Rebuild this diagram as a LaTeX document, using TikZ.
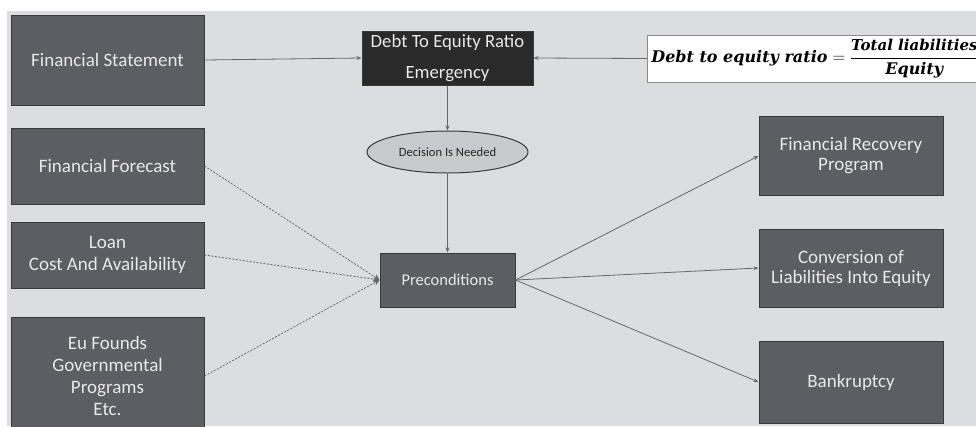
\documentclass[tikz,border=0pt]{standalone}
\usepackage{fontspec}
\setmainfont{Carlito}
\newfontfamily\fmlafont{DejaVu Serif}
\usetikzlibrary{shapes.geometric,arrows.meta}
\definecolor{bggray}{HTML}{DCDDE0}
\definecolor{boxfill}{HTML}{5D5E63}
\definecolor{boxline}{HTML}{3A3A3C}
\definecolor{boxtext}{HTML}{E8E8EA}
\definecolor{darkfill}{HTML}{2A2A2B}
\definecolor{ellfill}{HTML}{C9CACD}
\definecolor{linecol}{HTML}{66676A}
\newcommand{\fmlatxt}[2]{\hbox{\fontsize{#1}{#1}\fmlafont\bfseries\itshape #2}}
\tikzset{
  darkbox/.style={draw=boxline, line width=1pt, fill=boxfill, text=boxtext,
    font=\fontsize{19}{22}\selectfont, align=center, inner sep=2pt},
  rightbox/.style={darkbox, font=\fontsize{19}{20}\selectfont,
    minimum width=184pt},
  emergbox/.style={draw=boxline, line width=1pt, fill=darkfill, text=boxtext,
    font=\fontsize{18.7}{31}\selectfont, align=center, inner sep=2pt,
    minimum width=171pt, minimum height=54pt},
  decell/.style={ellipse, draw=boxline, line width=1pt, fill=ellfill, text=black!85,
    font=\fontsize{12.6}{14}\selectfont, minimum width=161pt, minimum height=42pt, inner sep=0pt},
  fmlabox/.style={draw=black!45, line width=0.8pt, fill=white, inner sep=4pt,
    font=\fontsize{16}{20}\selectfont\fmlafont\bfseries\itshape},
  conn/.style={draw=linecol, line width=0.8pt, -{Stealth[length=5pt,width=4pt]}},
  dconn/.style={draw=linecol, line width=0.8pt, dash pattern=on 2pt off 1.5pt,
    -{Stealth[length=6pt,width=6pt]}}
}
\begin{document}
\begin{tikzpicture}[x=1pt,y=-1pt]
\useasboundingbox (0,0) rectangle (976,426);
\fill[white] (0,0) rectangle (976,426);
\fill[bggray] (7,11) rectangle (976,426);

% left column
\node[darkbox, minimum width=193pt, minimum height=90pt] (fs) at (107.5,60) {Financial Statement};
\node[darkbox, minimum width=193pt, minimum height=76pt] (ff) at (107.5,166) {Financial Forecast};
\node[darkbox, minimum width=193pt, minimum height=66pt] (loan) at (107.5,255) {Loan\\Cost And Availability};
\node[darkbox, minimum width=193pt, minimum height=118pt] (eu) at (107.5,376) {Eu Founds\\Governmental\\Programs\\Etc.};

% centre column
\node[emergbox] (dte) at (447.5,58) {Debt To Equity Ratio\\Emergency};
\node[decell] (dec) at (447.5,152) {Decision Is Needed};
\node[darkbox, font=\fontsize{16.5}{20}\selectfont, minimum width=135pt, minimum height=54pt] (pre) at (447.5,280) {Preconditions};

% formula
\node[fmlabox, anchor=west, minimum height=47pt] (fmla) at (647,58.5)
  {Debt to equity ratio\hspace{5pt}$\mathord{=}$\hspace{5pt}$\displaystyle\frac{\fmlatxt{15}{Total liabilities}}{\fmlatxt{16}{Equity}}$};

% right column
\node[rightbox, minimum height=79pt] (frp) at (851,156) {Financial Recovery\\Program};
\node[rightbox, minimum height=78pt] (conv) at (851,268) {Conversion of\\Liabilities Into Equity};
\node[rightbox, minimum height=82pt] (bank) at (851,382) {Bankruptcy};

% connectors
\draw[conn] (fs.east) -- (dte.west);
\draw[conn] (fmla.west) -- (dte.east);
\draw[conn] (dte.south) -- (dec.north);
\draw[conn] (dec.south) -- (pre.north);
\draw[dconn] (ff.east) -- (pre.west);
\draw[dconn] (loan.east) -- (pre.west);
\draw[dconn] (eu.east) -- (pre.west);
\draw[conn] (pre.east) -- (frp.west);
\draw[conn] (pre.east) -- (conv.west);
\draw[conn] (pre.east) -- (bank.west);
\end{tikzpicture}
\end{document}
